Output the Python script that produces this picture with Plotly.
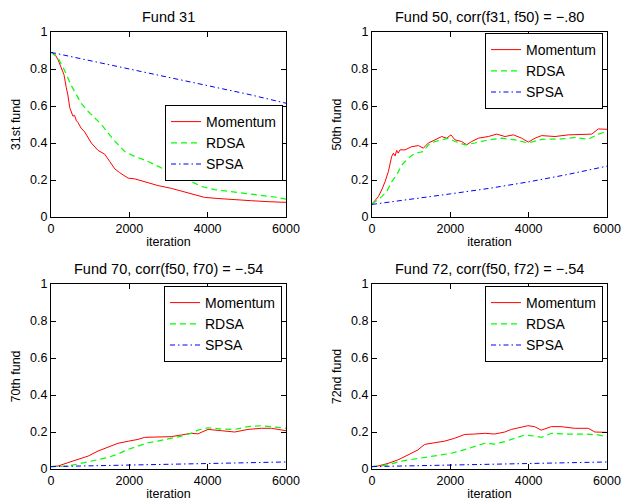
import plotly.graph_objects as go

# ---------------- data ----------------
# Fund 31
it_mom_31 = [0, 100, 180, 260, 330, 390, 430, 480, 520, 560, 600, 650, 690, 770, 860, 950, 1030, 1200, 1370, 1500, 1630, 1750, 1970, 2140, 2390, 2730, 3070, 3410, 3670, 3920, 4260, 4690, 5120, 5540, 6000]
mom_31 = [0.89, 0.88, 0.85, 0.81, 0.77, 0.70, 0.66, 0.59, 0.56, 0.545, 0.55, 0.52, 0.51, 0.48, 0.46, 0.43, 0.40, 0.36, 0.34, 0.30, 0.26, 0.24, 0.21, 0.206, 0.19, 0.17, 0.155, 0.137, 0.12, 0.106, 0.10, 0.092, 0.088, 0.083, 0.079]
it_rdsa_31 = [0, 180, 350, 520, 650, 770, 950, 1120, 1290, 1460, 1630, 1880, 2140, 2480, 2820, 3000, 3160, 3500, 3840, 4180, 4520, 4860, 5290, 5710, 6000]
rdsa_31 = [0.89, 0.86, 0.79, 0.71, 0.66, 0.615, 0.57, 0.534, 0.50, 0.453, 0.41, 0.354, 0.327, 0.30, 0.265, 0.235, 0.23, 0.20, 0.165, 0.148, 0.14, 0.13, 0.12, 0.108, 0.097]
it_spsa_31 = [0, 1000, 2000, 3000, 4000, 5000, 6000]
spsa_31 = [0.89, 0.845, 0.80, 0.755, 0.71, 0.665, 0.615]

# Fund 50
it_mom_50 = [0, 77, 162, 247, 332, 417, 460, 502, 545, 590, 630, 670, 715, 843, 1013, 1183, 1311, 1438, 1609, 1779, 1906, 2017, 2119, 2289, 2417, 2545, 2715, 2970, 3183, 3396, 3609, 3821, 3991, 4162, 4332, 4672, 5013, 5353, 5608, 5779, 6000]
mom_50 = [0.07, 0.092, 0.11, 0.146, 0.19, 0.245, 0.28, 0.327, 0.345, 0.33, 0.36, 0.345, 0.363, 0.363, 0.38, 0.386, 0.372, 0.40, 0.417, 0.435, 0.426, 0.444, 0.417, 0.408, 0.39, 0.408, 0.426, 0.435, 0.448, 0.435, 0.444, 0.426, 0.405, 0.426, 0.44, 0.435, 0.444, 0.448, 0.448, 0.476, 0.474]
it_rdsa_50 = [0, 247, 374, 502, 630, 757, 928, 1098, 1311, 1438, 1609, 1779, 1949, 2119, 2374, 2630, 2970, 3311, 3651, 3991, 4332, 4843, 5183, 5523, 5779, 6000]
rdsa_50 = [0.07, 0.11, 0.137, 0.19, 0.227, 0.28, 0.318, 0.345, 0.354, 0.39, 0.408, 0.417, 0.426, 0.408, 0.39, 0.40, 0.417, 0.426, 0.417, 0.40, 0.42, 0.422, 0.43, 0.42, 0.448, 0.462]
it_spsa_50 = [0, 1000, 2000, 3000, 4000, 5000, 6000]
spsa_50 = [0.068, 0.095, 0.125, 0.155, 0.19, 0.23, 0.275]

# Fund 70
it_mom_70 = [0, 180, 430, 690, 950, 1200, 1460, 1710, 1970, 2220, 2390, 2730, 3070, 3330, 3580, 3750, 4010, 4350, 4690, 5030, 5370, 5630, 6000]
mom_70 = [0.013, 0.016, 0.034, 0.052, 0.07, 0.097, 0.12, 0.139, 0.15, 0.16, 0.171, 0.171, 0.175, 0.184, 0.193, 0.19, 0.214, 0.207, 0.20, 0.214, 0.22, 0.22, 0.207]
it_rdsa_70 = [0, 430, 690, 950, 1200, 1460, 1710, 1970, 2220, 2480, 2730, 3070, 3330, 3580, 3750, 4010, 4350, 4690, 5030, 5370, 5630, 6000]
rdsa_70 = [0.013, 0.016, 0.027, 0.04, 0.049, 0.063, 0.081, 0.106, 0.124, 0.142, 0.151, 0.166, 0.178, 0.193, 0.21, 0.223, 0.216, 0.214, 0.229, 0.234, 0.229, 0.22]
it_spsa_70 = [0, 2000, 4000, 6000]
spsa_70 = [0.013, 0.02, 0.03, 0.038]

# Fund 72
it_mom_72 = [0, 150, 410, 660, 920, 1170, 1345, 1600, 1860, 2110, 2370, 2620, 2880, 3130, 3390, 3560, 3810, 3980, 4150, 4320, 4580, 4830, 5170, 5520, 5690, 6000]
mom_72 = [0.013, 0.016, 0.03, 0.049, 0.076, 0.103, 0.133, 0.142, 0.151, 0.166, 0.187, 0.189, 0.193, 0.189, 0.20, 0.214, 0.225, 0.234, 0.229, 0.21, 0.229, 0.229, 0.22, 0.22, 0.20, 0.198]
it_rdsa_72 = [0, 410, 750, 1170, 1600, 2030, 2280, 2620, 2880, 3130, 3390, 3640, 3900, 4150, 4320, 4580, 5000, 5430, 5770, 6000]
rdsa_72 = [0.013, 0.022, 0.043, 0.058, 0.07, 0.085, 0.099, 0.12, 0.139, 0.135, 0.148, 0.166, 0.184, 0.178, 0.171, 0.193, 0.189, 0.189, 0.184, 0.175]
it_spsa_72 = [0, 2000, 4000, 6000]
spsa_72 = [0.013, 0.02, 0.03, 0.038]

titles = ["Fund 31", "Fund 50, corr(f31, f50) = \u2212.80",
          "Fund 70, corr(f50, f70) = \u2212.54", "Fund 72, corr(f50, f72) = \u2212.54"]
ylabels = ["31st fund", "50th fund", "70th fund", "72nd fund"]
series_names = ["Momentum", "RDSA", "SPSA"]
x_ticks = [0, 2000, 4000, 6000]
y_ticks = [0, 0.2, 0.4, 0.6, 0.8, 1]

panels = [
    [(it_mom_31, mom_31), (it_rdsa_31, rdsa_31), (it_spsa_31, spsa_31)],
    [(it_mom_50, mom_50), (it_rdsa_50, rdsa_50), (it_spsa_50, spsa_50)],
    [(it_mom_70, mom_70), (it_rdsa_70, rdsa_70), (it_spsa_70, spsa_70)],
    [(it_mom_72, mom_72), (it_rdsa_72, rdsa_72), (it_spsa_72, spsa_72)],
]

# ---------------- styling ----------------
FONT = "Liberation Sans, Arial, Helvetica, sans-serif"
styles = [dict(color="#ff0000", width=1, dash="solid"),
          dict(color="#00ff00", width=1.2, dash="6px,4px"),
          dict(color="#0000ff", width=1, dash="5px,3px,1.5px,3px")]

W, H = 635, 504
# plot-area boxes in page pixels (left, right, top, bottom)
boxes = [(51, 286, 32, 217), (372, 607, 32, 217), (51, 286, 284, 469), (372, 607, 284, 469)]
legend_pos = [(165, 105), (485, 33), (164, 286), (485, 286)]

fig = go.Figure()
layout = dict()
for p in range(4):
    sfx = "" if p == 0 else str(p + 1)
    leg = "legend" if p == 0 else "legend" + str(p + 1)
    for (xs, ys), name, st in zip(panels[p], series_names, styles):
        fig.add_trace(go.Scatter(x=xs, y=ys, mode="lines", name=name, line=st,
                                 xaxis="x" + sfx, yaxis="y" + sfx, legend=leg))
    l, r, t, b = boxes[p]
    axcommon = dict(showline=True, linecolor="black", linewidth=1, mirror="ticks",
                    ticks="inside", ticklen=5, tickcolor="black", showgrid=False,
                    zeroline=False, tickfont=dict(size=12.5, color="black", family=FONT))
    layout["xaxis" + sfx] = dict(domain=[l / W, r / W], anchor="y" + sfx, range=[0, 6000],
                                 tickvals=x_ticks, title=dict(text="iteration", standoff=2,
                                 font=dict(size=12.5, color="black", family=FONT)), **axcommon)
    layout["yaxis" + sfx] = dict(domain=[1 - b / H, 1 - t / H], anchor="x" + sfx, range=[0, 1],
                                 tickvals=y_ticks, title=dict(text=ylabels[p], standoff=6,
                                 font=dict(size=12.5, color="black", family=FONT)), **axcommon)
    lx, ly = legend_pos[p]
    layout[leg] = dict(x=lx / W, y=1 - ly / H, xref="paper", yref="paper",
                       xanchor="left", yanchor="top",
                       bgcolor="white", bordercolor="black", borderwidth=1,
                       font=dict(size=14, color="black", family=FONT),
                       itemwidth=30, tracegroupgap=0)

annotations = []
for p in range(4):
    sfx = "" if p == 0 else str(p + 1)
    annotations.append(dict(text=titles[p], x=0.5, y=1, xref="x" + sfx + " domain",
                            yref="y" + sfx + " domain", xanchor="center", yanchor="bottom",
                            yshift=5, showarrow=False,
                            font=dict(size=14.5, color="black", family=FONT)))

fig.update_layout(width=W, height=H, margin=dict(l=0, r=0, t=0, b=0, autoexpand=False),
                  paper_bgcolor="white", plot_bgcolor="white",
                  font=dict(family=FONT, color="black"),
                  annotations=annotations, **layout)

fig.write_html("out.html")
